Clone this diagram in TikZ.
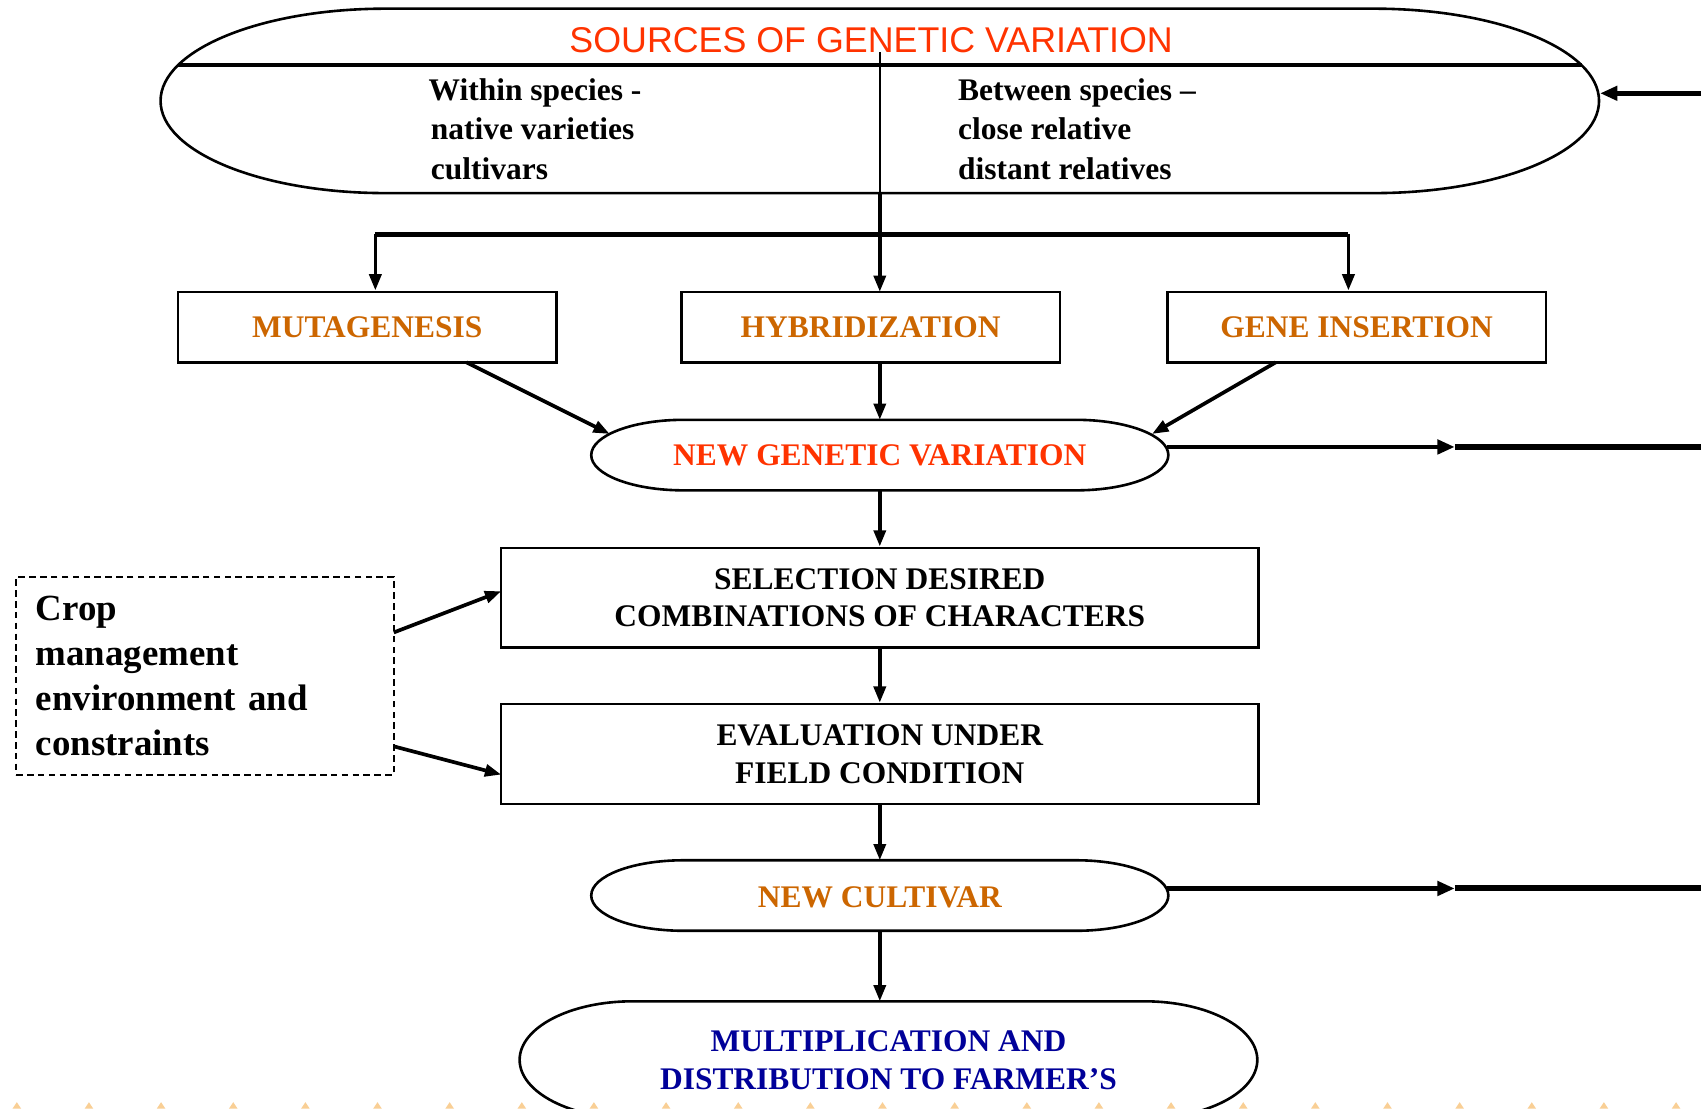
\documentclass[tikz,border=0pt]{standalone}
\usepackage{fontspec}
\setmainfont{Liberation Serif}
\newfontfamily\titlefont{Liberation Sans}
\usetikzlibrary{arrows.meta,calc}
\definecolor{titlered}{HTML}{FF3300}
\definecolor{orangebrown}{HTML}{CC6600}
\definecolor{darkblue}{HTML}{000099}
\definecolor{dotorange}{HTML}{F9CF95}
\begin{document}
\begin{tikzpicture}[x=1pt,y=-1pt,
  outline/.style={line width=2.4pt},
  procbox/.style={draw,line width=2.4pt,minimum width=349pt,minimum height=65pt,inner sep=0pt,
    font=\fontsize{29}{35}\selectfont\bfseries,text=orangebrown,align=center},
  widebox/.style={procbox,minimum width=698pt,minimum height=92pt,text=black},
  lbl/.style={font=\fontsize{29}{35}\selectfont\bfseries,align=center,inner sep=0pt},
  srclbl/.style={font=\fontsize{29}{36.5}\selectfont\bfseries,align=left,inner sep=0pt,anchor=north west},
  arr/.style={line width=3.4pt,-{Triangle[length=15pt,width=11pt]}},
  arrthick/.style={line width=4.2pt,-{Triangle[length=16pt,width=13pt]}},
  thickline/.style={line width=5pt}
]
\useasboundingbox (0,0) rectangle (1568,1022);
\fill[white] (0,0) rectangle (1568,1022);

% ---------- sources of genetic variation ----------
\draw[outline] (355,8) -- (1267,8)
  arc[start angle=90,end angle=-90,x radius=207pt,y radius=85pt] -- (355,178)
  arc[start angle=270,end angle=90,x radius=207pt,y radius=85pt] -- cycle;
\coordinate (divL) at (164,60);
\coordinate (divR) at (1458,60);
\draw[line width=3pt] (divL) -- (divR);
\node[font=\titlefont\fontsize{33}{38}\selectfont,text=titlered,inner sep=0pt] (title) at (803,37) {SOURCES OF GENETIC VARIATION};
\node[srclbl] (within) at (395,72) {Within species -\\ \hspace*{2pt}native varieties\\ \hspace*{2pt}cultivars};
\node[srclbl] (between) at (883,72) {Between species --\\ close relative\\ distant relatives};
\coordinate (srcR) at (1475,86);
\coordinate (feedTop) at (1568,86);
\draw[arrthick] (feedTop) -- (srcR);

% ---------- methods ----------
\node[procbox] (mut) at (338.5,301.5) {MUTAGENESIS};
\node[procbox] (hyb) at (802.5,301.5) {HYBRIDIZATION};
\node[procbox] (gin) at (1250.5,301.5) {GENE INSERTION};

\coordinate (stemTop) at (811,48);
\coordinate (stemMid) at (811,178);
\coordinate (barL) at (346,216);
\coordinate (barR) at (1243,216);
\coordinate (hybIn) at (811,269);
\draw[line width=1.8pt] (stemTop) -- (stemMid);
\draw[arr] (stemMid) -- (hybIn);
\draw[thickline] (barL) -- (barR);
\draw[arr] (barL) -- (barL |- mut.north);
\draw[arr] (barR) -- (barR |- gin.north);

% ---------- new genetic variation ----------
\draw[outline] (630,387) -- (992,387)
  arc[start angle=90,end angle=-90,x radius=85pt,y radius=32.5pt] -- (630,452)
  arc[start angle=270,end angle=90,x radius=85pt,y radius=32.5pt] -- cycle;
\node[lbl,text=titlered] (ngv) at (811,420) {NEW GENETIC VARIATION};
\coordinate (ngvTop) at (811,387);
\coordinate (ngvBot) at (811,452);
\coordinate (ngvL) at (562,400);
\coordinate (ngvR) at (1062,400);
\coordinate (ngvE) at (1076,412);
\coordinate (ngvHead) at (1341,412);
\coordinate (ngvCont) at (1341,412);
\coordinate (ngvFar) at (1568,412);
\coordinate (mutOut) at (430,334);
\coordinate (ginOut) at (1176,334);
\coordinate (hybOut) at (811,334);

\draw[arr] (mutOut) -- (ngvL);
\draw[arr] (hybOut) -- (ngvTop);
\draw[arr] (ginOut) -- (ngvR);
\draw[arrthick] (ngvE) -- (ngvHead);
\draw[line width=5.5pt] (ngvCont) -- (ngvFar);

% ---------- selection & evaluation ----------
\node[widebox] (sel) at (811,551) {SELECTION DESIRED\\COMBINATIONS OF CHARACTERS};
\node[widebox] (eva) at (811,695) {EVALUATION UNDER\\FIELD CONDITION};
\draw[arr] (ngvBot) -- (sel.north);
\draw[arr] (sel.south) -- (eva.north);

% ---------- crop management ----------
\node[draw,line width=1.9pt,dash pattern=on 6pt off 4pt,minimum width=348pt,minimum height=182pt,
  text width=312pt,inner xsep=18pt,inner ysep=0pt,align=left,
  font=\fontsize{34}{41.5}\selectfont\bfseries] (crop) at (189,623)
  {Crop\\management\\environment and\\constraints};
\coordinate (cropA) at (363,583);
\coordinate (cropB) at (363,688);
\coordinate (selIn) at (462,545);
\coordinate (evaIn) at (462,714);
\draw[arr] (cropA) -- (selIn);
\draw[arr] (cropB) -- (evaIn);

% ---------- new cultivar ----------
\draw[outline] (630,793) -- (992,793)
  arc[start angle=90,end angle=-90,x radius=85pt,y radius=32.5pt] -- (630,858)
  arc[start angle=270,end angle=90,x radius=85pt,y radius=32.5pt] -- cycle;
\node[lbl,text=orangebrown] (nc) at (811,827) {NEW CULTIVAR};
\coordinate (ncTop) at (811,793);
\coordinate (ncBot) at (811,858);
\coordinate (ncE) at (1076,819);
\coordinate (ncHead) at (1341,819);
\coordinate (ncCont) at (1341,819);
\coordinate (ncFar) at (1568,819);
\draw[arr] (eva.south) -- (ncTop);
\draw[arrthick] (ncE) -- (ncHead);
\draw[line width=5.5pt] (ncCont) -- (ncFar);

% ---------- multiplication ----------
\begin{scope}
\clip (0,0) rectangle (1568,1022);
\draw[outline] (583,923) -- (1055,923)
  arc[start angle=90,end angle=-90,x radius=104pt,y radius=54pt] -- (583,1031)
  arc[start angle=270,end angle=90,x radius=104pt,y radius=54pt] -- cycle;
\foreach \k in {0,...,23} {
  \fill[dotorange] ({11.5+66.5*\k},1022) -- ({15.5+66.5*\k},1016) -- ({19.5+66.5*\k},1022) -- cycle;
}
\end{scope}
\node[lbl,text=darkblue] (mul) at (819,977) {MULTIPLICATION AND\\DISTRIBUTION TO FARMER’S};
\coordinate (mulTop) at (811,923);
\draw[arr] (ncBot) -- (mulTop);
\end{tikzpicture}
\end{document}
